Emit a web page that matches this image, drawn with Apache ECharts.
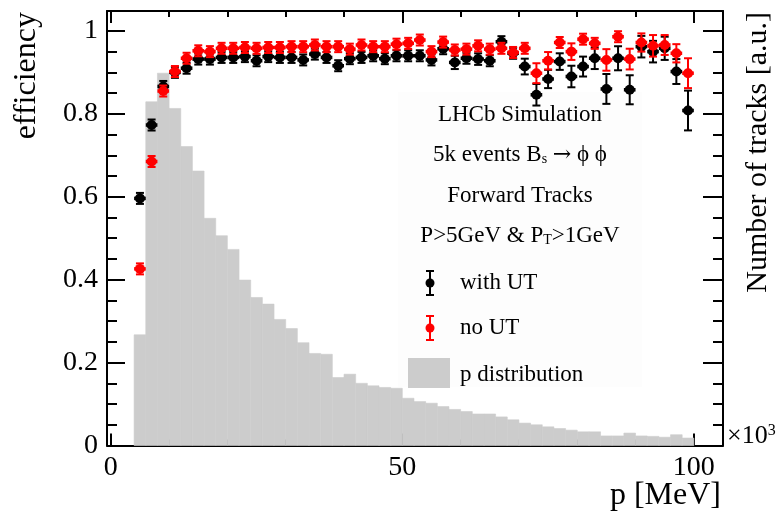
<!DOCTYPE html>
<html>
<head>
<meta charset="utf-8">
<title>Forward tracking efficiency vs p</title>
<script src="https://cdn.jsdelivr.net/npm/echarts@6/dist/echarts.min.js"></script>
<style>
  html, body { margin: 0; padding: 0; background: #fff; }
  #chart { width: 784px; height: 517px; }
</style>
</head>
<body>
<div id="chart"></div>
<script>
// ---- 数据：动量分箱中心（箱宽 2） ----
const pCenters = [5, 7, 9, 11, 13, 15, 17, 19, 21, 23, 25, 27, 29, 31, 33, 35, 37, 39, 41, 43, 45, 47, 49, 51,
  53, 55, 57, 59, 61, 63, 65, 67, 69, 71, 73, 75, 77, 79, 81, 83, 85, 87, 89, 91, 93, 95, 97, 99]

// with UT（黑色）
const effWithUT = [0.596, 0.773, 0.866, 0.900, 0.910, 0.932, 0.932, 0.936, 0.936, 0.938, 0.928, 0.938,
  0.936, 0.936, 0.930, 0.944, 0.936, 0.916, 0.933, 0.936, 0.940, 0.933, 0.940, 0.940,
  0.940, 0.930, 0.957, 0.924, 0.934, 0.932, 0.928, 0.974, 0.946, 0.914, 0.846, 0.884,
  0.926, 0.890, 0.914, 0.934, 0.860, 0.934, 0.858, 0.962, 0.950, 0.958, 0.902, 0.808]
const errWithUT = [0.012, 0.010, 0.008, 0.006, 0.006, 0.006, 0.006, 0.006, 0.006, 0.006, 0.006, 0.006,
  0.006, 0.006, 0.007, 0.007, 0.007, 0.007, 0.007, 0.007, 0.008, 0.008, 0.008, 0.008,
  0.008, 0.009, 0.008, 0.016, 0.012, 0.014, 0.012, 0.010, 0.012, 0.019, 0.026, 0.022,
  0.020, 0.026, 0.024, 0.026, 0.036, 0.029, 0.035, 0.026, 0.026, 0.028, 0.030, 0.048]

// no UT（红色）
const effNoUT = [0.426, 0.685, 0.855, 0.902, 0.934, 0.952, 0.950, 0.958, 0.958, 0.960, 0.958, 0.960,
  0.960, 0.962, 0.962, 0.966, 0.962, 0.962, 0.956, 0.966, 0.962, 0.962, 0.968, 0.970,
  0.978, 0.950, 0.973, 0.954, 0.956, 0.964, 0.956, 0.958, 0.948, 0.958, 0.898, 0.928,
  0.972, 0.950, 0.980, 0.970, 0.930, 0.986, 0.932, 0.972, 0.964, 0.966, 0.946, 0.898]
const errNoUT = [0.012, 0.010, 0.008, 0.006, 0.005, 0.005, 0.005, 0.005, 0.005, 0.005, 0.005, 0.005,
  0.005, 0.005, 0.006, 0.006, 0.006, 0.006, 0.006, 0.006, 0.006, 0.007, 0.007, 0.007,
  0.007, 0.008, 0.008, 0.008, 0.010, 0.010, 0.010, 0.010, 0.010, 0.010, 0.024, 0.021,
  0.012, 0.020, 0.012, 0.012, 0.026, 0.010, 0.025, 0.022, 0.026, 0.024, 0.022, 0.036]

// p 分布直方图：箱下沿 / 上沿 / 高度（右轴，任意单位）
const histLow = [4, 6, 8, 10, 12, 14, 16, 18, 20, 22, 24, 26, 28, 30, 32, 34, 36, 38, 40, 42, 44, 46, 48, 50,
  52, 54, 56, 58, 60, 62, 64, 66, 68, 70, 72, 74, 76, 78, 80, 82, 84, 86, 88, 90, 92, 94, 96, 98]
const histHigh = [6, 8, 10, 12, 14, 16, 18, 20, 22, 24, 26, 28, 30, 32, 34, 36, 38, 40, 42, 44, 46, 48, 50, 52,
  54, 56, 58, 60, 62, 64, 66, 68, 70, 72, 74, 76, 78, 80, 82, 84, 86, 88, 90, 92, 94, 96, 98, 100]
const histCounts = [0.267, 0.829, 0.898, 0.813, 0.721, 0.662, 0.548, 0.506, 0.473, 0.399, 0.357, 0.341,
  0.304, 0.282, 0.248, 0.222, 0.220, 0.164, 0.172, 0.150, 0.144, 0.140, 0.138, 0.114,
  0.106, 0.102, 0.094, 0.087, 0.082, 0.076, 0.076, 0.069, 0.062, 0.054, 0.050, 0.045,
  0.041, 0.037, 0.033, 0.033, 0.023, 0.023, 0.030, 0.023, 0.022, 0.020, 0.026, 0.018]

// 刻度
const xMajorTicks = [0, 50, 100]
const xMinorTicks = [10, 20, 30, 40, 60, 70, 80, 90]
const yMajorTicks = [0, 0.2, 0.4, 0.6, 0.8, 1]
const yMinorTicks = [0.05, 0.1, 0.15, 0.25, 0.3, 0.35, 0.45, 0.5, 0.55, 0.65, 0.7, 0.75, 0.85, 0.9, 0.95]

const FONT = '"Liberation Serif", "Times New Roman", "DejaVu Serif", serif'
const X_MIN = -0.65, X_MAX = 105
const Y_MIN = 0, Y_MAX = 1.048

/** 数值轴（默认不画轴线和标签，只按需打开） */
function axis(extra) {
  return Object.assign({
    type: 'value',
    splitLine: { show: false },
    axisLine: { show: false, onZero: false, lineStyle: { color: '#000', width: 2 } },
    axisLabel: { show: false },
  }, extra)
}
function ticks(values, length) {
  return { show: true, inside: true, length, customValues: values, lineStyle: { color: '#000', width: 2 } }
}

/** ROOT 风格误差棒 + 实心圆点 */
function errorBarItem(color) {
  return function (params, api) {
    const x = api.value(0), y = api.value(1), e = api.value(2)
    const c = api.coord([x, y])
    const left = api.coord([x - 1, y])[0]
    const right = api.coord([x + 1, y])[0]
    const top = Math.min(api.coord([x, y + e])[1], c[1] - 5.5)
    const bot = Math.max(api.coord([x, y - e])[1], c[1] + 5.5)
    const ls = { stroke: color, lineWidth: 2 }
    return {
      type: 'group',
      children: [
        { type: 'line', shape: { x1: left, y1: c[1], x2: right, y2: c[1] }, style: { stroke: color, lineWidth: 3.5 } },
        { type: 'line', shape: { x1: c[0], y1: top, x2: c[0], y2: bot }, style: ls },
        { type: 'line', shape: { x1: c[0] - 4, y1: top, x2: c[0] + 4, y2: top }, style: ls },
        { type: 'line', shape: { x1: c[0] - 4, y1: bot, x2: c[0] + 4, y2: bot }, style: ls },
        { type: 'circle', shape: { cx: c[0], cy: c[1], r: 5 }, style: { fill: color } },
      ],
    }
  }
}

/** 直方图矩形 */
function histItem(params, api) {
  const p0 = api.coord([api.value(0), 0])
  const p1 = api.coord([api.value(1), api.value(2)])
  return {
    type: 'rect',
    shape: { x: p0[0], y: p1[1], width: p1[0] - p0[0], height: p0[1] - p1[1] },
    style: { fill: '#cccccc', stroke: '#cccccc', lineWidth: 0.6 },
  }
}

const histData = histLow.map((lo, i) => [lo, histHigh[i], histCounts[i]])
const withUTData = pCenters.map((p, i) => [p, effWithUT[i], errWithUT[i]])
const noUTData = pCenters.map((p, i) => [p, effNoUT[i], errNoUT[i]])

const chart = echarts.init(document.getElementById('chart'), null, { renderer: 'canvas' })

const subRich = {
  sub: { fontFamily: FONT, fontSize: 14, verticalAlign: 'bottom', fill: '#000' },
  arr: { fontFamily: '"DejaVu Serif", serif', fontSize: 22, fill: '#000' },
}
const legendText = (x, y, text, extra) => ({
  type: 'text', x, y, z: 20,
  style: Object.assign({ text, font: '23px ' + FONT, fill: '#000', align: 'center', verticalAlign: 'middle' }, extra),
})
// 图例里的误差棒图标（每个元素单独给 z，group 的 z 不会传给子元素）
const legendBar = (cx, cy, color) => [
  { type: 'line', z: 20, shape: { x1: cx, y1: cy - 12, x2: cx, y2: cy + 12 }, style: { stroke: color, lineWidth: 2 } },
  { type: 'line', z: 20, shape: { x1: cx - 4, y1: cy - 12, x2: cx + 4, y2: cy - 12 }, style: { stroke: color, lineWidth: 2 } },
  { type: 'line', z: 20, shape: { x1: cx - 4, y1: cy + 12, x2: cx + 4, y2: cy + 12 }, style: { stroke: color, lineWidth: 2 } },
  { type: 'circle', z: 20, shape: { cx, cy, r: 4.5 }, style: { fill: color } },
]

chart.setOption({
  animation: false,
  backgroundColor: '#fff',
  grid: { left: 107, top: 11, width: 616, height: 434.5, containLabel: false },
  xAxis: [
    axis({ min: X_MIN, max: X_MAX, position: 'bottom',
      axisLine: { show: true, onZero: false, lineStyle: { color: '#000', width: 2 } },
      axisTick: ticks(xMajorTicks, 12),
      axisLabel: { show: true, customValues: xMajorTicks, fontFamily: FONT, fontSize: 28, color: '#000', margin: 8 } }),
    axis({ min: X_MIN, max: X_MAX, position: 'bottom', axisTick: ticks(xMinorTicks, 6) }),
    axis({ min: X_MIN, max: X_MAX, position: 'top',
      axisLine: { show: true, onZero: false, lineStyle: { color: '#000', width: 2 } },
      axisTick: ticks(xMajorTicks, 12) }),
    axis({ min: X_MIN, max: X_MAX, position: 'top', axisTick: ticks(xMinorTicks, 6) }),
  ],
  yAxis: [
    axis({ min: Y_MIN, max: Y_MAX, position: 'left',
      axisLine: { show: true, onZero: false, lineStyle: { color: '#000', width: 2 } },
      axisTick: ticks(yMajorTicks, 18),
      axisLabel: { show: true, customValues: yMajorTicks, fontFamily: FONT, fontSize: 28, color: '#000', margin: 9 } }),
    axis({ min: Y_MIN, max: Y_MAX, position: 'left', axisTick: ticks(yMinorTicks, 10) }),
    axis({ min: Y_MIN, max: Y_MAX, position: 'right',
      axisLine: { show: true, onZero: false, lineStyle: { color: '#000', width: 2 } },
      axisTick: ticks(yMajorTicks, 20) }),
    axis({ min: Y_MIN, max: Y_MAX, position: 'right', axisTick: ticks(yMinorTicks, 10) }),
  ],
  series: [
    {
      name: 'p distribution', type: 'custom', xAxisIndex: 0, yAxisIndex: 2, z: 1,
      renderItem: histItem, encode: { x: [0, 1], y: 2 }, data: histData, silent: true,
    },
    {
      name: 'with UT', type: 'custom', xAxisIndex: 0, yAxisIndex: 0, z: 5,
      renderItem: errorBarItem('#000000'), encode: { x: 0, y: 1 }, data: withUTData, silent: true,
    },
    {
      name: 'no UT', type: 'custom', xAxisIndex: 0, yAxisIndex: 0, z: 6,
      renderItem: errorBarItem('#ff0000'), encode: { x: 0, y: 1 }, data: noUTData, silent: true,
    },
  ],
  graphic: [
    // 轴标题
    { type: 'text', x: 27, y: 12, rotation: Math.PI / 2,
      style: { text: 'efficiency', font: '32px ' + FONT, fill: '#000', align: 'right', verticalAlign: 'middle' } },
    { type: 'text', x: 721, y: 512,
      style: { text: 'p [MeV]', font: '32px ' + FONT, fill: '#000', align: 'right', verticalAlign: 'bottom' } },
    { type: 'text', x: 758, y: 12, rotation: Math.PI / 2,
      style: { text: 'Number of tracks [a.u.]', font: '30px ' + FONT, fill: '#000', align: 'right', verticalAlign: 'middle' } },
    { type: 'text', x: 727, y: 436,
      style: { text: '×10{sup|3}', font: '26px ' + FONT, fill: '#000', align: 'left', verticalAlign: 'middle',
        rich: { sup: { fontFamily: FONT, fontSize: 16, verticalAlign: 'top', fill: '#000' } } } },
    // 图例背景
    { type: 'rect', z: 2, shape: { x: 398, y: 92, width: 244, height: 295 }, style: { fill: '#fdfdfd' } },
    legendText(520, 115, 'LHCb Simulation'),
    legendText(520, 155, '5k events B{sub|s} {arr|→} ϕ ϕ', { rich: subRich }),
    legendText(520, 196, 'Forward Tracks'),
    legendText(520, 236, 'P>5GeV & P{sub|T}>1GeV', { rich: subRich }),
    ...legendBar(430, 283, '#000000'),
    legendText(460, 283, 'with UT', { align: 'left' }),
    ...legendBar(430, 328, '#ff0000'),
    legendText(460, 328, 'no UT', { align: 'left' }),
    { type: 'rect', z: 20, shape: { x: 408, y: 358, width: 42, height: 30 }, style: { fill: '#cccccc' } },
    legendText(460, 375, 'p distribution', { align: 'left' }),
  ],
})

window.addEventListener('resize', () => chart.resize())
</script>
</body>
</html>
